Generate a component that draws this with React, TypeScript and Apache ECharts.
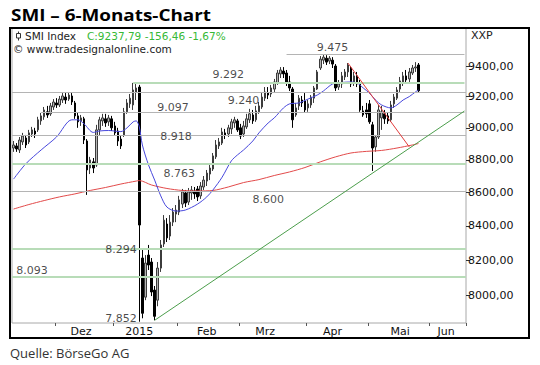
import React, { useEffect, useRef } from 'react';
import * as echarts from 'echarts';

// daily OHLC (trading days, mid-Nov 2014 .. end of May 2015)
const openV = [8873,8886,8861,8911,8936,8911,8961,8980,8987,9044,9070,9102,9089,9133,9159,9146,9178,9197,9184,9204,9159,9076,9044,9057,8917,8749,8787,8768,8987,9044,9057,9038,9057,9012,8980,8929,8955,9102,9153,9146,9230,9262,8212,7989,8229,8189,8029,7972,8154,8294,8411,8340,8422,8470,8482,8530,8597,8542,8597,8609,8621,8579,8633,8669,8712,8743,8818,8886,8904,8968,8961,8993,9031,9044,9000,8961,9006,9051,9082,9051,9102,9133,9190,9223,9217,9249,9289,9348,9367,9354,9295,9249,9082,9140,9178,9172,9127,9146,9190,9249,9387,9439,9452,9433,9439,9400,9262,9282,9328,9361,9387,9289,9335,9289,9108,9114,9153,9019,8880,8942,9063,9089,9076,9051,9153,9190,9249,9295,9335,9315,9354,9387,9407];
const highV = [8917,8904,8942,8968,8955,8987,9006,9000,9070,9095,9133,9140,9159,9184,9190,9204,9223,9223,9230,9223,9172,9095,9082,9070,8929,8818,8811,9019,9070,9089,9089,9082,9076,9038,9000,8948,9127,9184,9217,9289,9292,9276,8259,8229,8288,8212,8052,8189,8317,8464,8446,8464,8506,8524,8579,8621,8615,8627,8639,8633,8639,8663,8700,8737,8768,8842,8923,8936,9000,8993,9019,9057,9070,9057,9025,9044,9089,9121,9114,9140,9165,9223,9262,9262,9276,9315,9374,9393,9393,9374,9335,9262,9159,9210,9204,9223,9178,9210,9269,9374,9466,9475,9472,9466,9459,9413,9308,9361,9380,9420,9400,9361,9361,9308,9140,9159,9178,9038,8955,9146,9140,9114,9095,9172,9217,9262,9328,9361,9374,9387,9407,9426,9420];
const lowV = [8849,8849,8842,8892,8873,8898,8942,8936,8974,9019,9051,9063,9076,9114,9127,9133,9159,9153,9172,9146,9057,9000,9012,8898,8585,8712,8718,8756,8955,9012,9006,9012,8980,8955,8886,8867,8942,9089,9127,9114,9178,7852,7871,7972,8143,7995,7860,7938,8132,8276,8305,8317,8399,8422,8464,8506,8512,8524,8555,8561,8548,8561,8615,8639,8675,8731,8805,8867,8892,8929,8942,8961,9000,8974,8929,8942,8993,9031,9025,9038,9089,9121,9172,9184,9197,9230,9276,9321,9321,9269,9236,9000,9070,9114,9133,9095,9102,9127,9159,9243,9374,9413,9407,9413,9387,9236,9243,9256,9308,9328,9262,9269,9262,9102,9070,9063,9025,8731,8850,8930,8987,9025,9025,9038,9127,9178,9230,9269,9295,9282,9341,9361,9230];
const closeV = [8892,8867,8923,8948,8892,8968,8987,8961,9051,9076,9114,9082,9140,9165,9146,9184,9204,9178,9210,9165,9076,9038,9063,8923,8737,8799,8749,8987,9051,9063,9031,9063,9000,8968,8917,8886,9102,9159,9190,9243,9256,8405,7899,8183,8172,8018,7882,8154,8288,8434,8329,8422,8482,8494,8555,8603,8536,8603,8615,8591,8573,8639,8675,8718,8749,8824,8892,8911,8974,8955,9000,9038,9051,8987,8948,9012,9057,9089,9044,9108,9140,9197,9230,9210,9256,9295,9354,9374,9348,9289,9256,9051,9127,9190,9159,9114,9153,9197,9256,9361,9446,9459,9426,9452,9413,9256,9282,9335,9361,9407,9282,9335,9282,9114,9082,9089,9038,8873,8942,9114,9102,9057,9044,9146,9197,9243,9302,9335,9308,9361,9387,9394,9237.79];

const slotCount = 148;
const monthTickIdx = [14, 33, 54, 74, 96, 116, 136];
const monthLabelIdx = [22, 41, 63, 82, 104, 126, 141];
const monthNames = ['Dez', '2015', 'Feb', 'Mrz', 'Apr', 'Mai', 'Jun'];
const yTicks = [8000, 8200, 8400, 8600, 8800, 9000, 9200, 9400];

// moving averages: [trading-day index, value]
const blueMa = [[0,8681],[4,8775],[9,8861],[14,8942],[19,9051],[21,9051],[23,9025],[26,8971],[28,8980],[31,8983],[35,8976],[37,9000],[39,9038],[40,9044],[41,9006],[42,8892],[44,8768],[46,8675],[48,8579],[50,8512],[53,8488],[56,8494],[60,8530],[63,8573],[65,8615],[68,8693],[71,8793],[73,8830],[75,8861],[78,8917],[80,8968],[83,9031],[85,9063],[88,9127],[90,9153],[93,9159],[96,9184],[99,9210],[101,9236],[104,9282],[107,9292],[110,9295],[112,9289],[114,9256],[116,9223],[118,9178],[120,9146],[123,9127],[125,9146],[127,9178],[129,9200],[131,9230],[132,9243]];
const redMa = [[0,8500],[5,8527],[10,8551],[15,8573],[20,8591],[25,8612],[30,8630],[35,8651],[40,8669],[41,8672],[45,8645],[50,8624],[55,8612],[60,8609],[65,8612],[70,8633],[75,8660],[80,8678],[85,8703],[90,8725],[95,8752],[100,8787],[105,8818],[110,8842],[115,8852],[120,8858],[125,8873],[130,8892],[132,8901]];
const redTrend = [[109, 9420], [129, 8880]];
const greenTrend = [[46, 7860], [147, 9107]];

const levels = [9475, 9292, 9240, 9097, 8918, 8763, 8600, 8294, 8093];
const levelStart = [89, 39, -1, 9, -1, -1, -1, -1, -1];
const levelGreen = [false, true, false, false, false, true, false, true, true];

const noteText = ['9.475', '9.292', '9.240', '9.097', '8.918', '8.763', '8.600', '8.294', '8.093', '7.852'];
const noteIdx = [104, 70, 75, 52, 53, 54, 83, 35, 6, 35];
const noteVal = [9475, 9292, 9240, 9097, 8918, 8763, 8600, 8294, 8093, 7852];
const noteDy = [-7, -8, 10, -5, -4.5, 7.5, 7.5, 6, -8, -3];

const L = Math.log;
const FONT = 'DejaVu Sans';

export default function App() {
  const ref = useRef<HTMLDivElement>(null);
  useEffect(() => {
    document.body.style.margin = '0';
    const chart = echarts.init(ref.current!, null, { renderer: 'svg' });
    const cats = Array.from({ length: slotCount }, (_, i) => String(i));
    const candle = openV.map((o, i) => [L(o), L(closeV[i]), L(lowV[i]), L(highV[i])]);
    const markData: any[] = levels.map((v, k) => {
      const ls = { color: levelGreen[k] ? '#b8dcb8' : '#b4b4b4', width: levelGreen[k] ? 2 : 1, type: 'solid' };
      if (levelStart[k] < 0) return { yAxis: L(v), lineStyle: ls };
      return [
        { xAxis: String(levelStart[k]), yAxis: L(v), lineStyle: ls },
        { xAxis: String(slotCount - 1), yAxis: L(v) },
      ];
    });
    const option: any = {
      animation: false,
      grid: { left: 12, right: 74, top: 28, bottom: 42, show: true, borderColor: '#a8a8a8', borderWidth: 1 },
      xAxis: {
        type: 'category',
        data: cats,
        boundaryGap: true,
        axisLine: { show: false },
        splitLine: { show: false },
        axisTick: { show: true, interval: (i: number) => monthTickIdx.includes(i), length: 3, lineStyle: { color: '#555' } },
        axisLabel: {
          interval: (i: number) => monthLabelIdx.includes(i),
          formatter: (_v: string, i: number) => monthNames[monthLabelIdx.indexOf(i)] ?? '',
          fontFamily: FONT, fontSize: 11, color: '#111', margin: 3,
        },
      },
      yAxis: {
        type: 'value',
        position: 'right',
        min: L(7845),
        max: L(9655),
        splitLine: { show: false },
        axisLine: { show: false },
        axisTick: { show: true, customValues: yTicks.map(L), length: 4, lineStyle: { color: '#333' } },
        axisLabel: {
          customValues: yTicks.map(L),
          formatter: (v: number) => Math.round(Math.exp(v)) + ',00',
          fontFamily: FONT, fontSize: 11, color: '#111', margin: 2,
        },
      },
      series: [
        {
          type: 'line', data: [], z: 1, silent: true,
          markLine: { silent: true, symbol: 'none', label: { show: false }, data: markData },
        },
        {
          type: 'candlestick', data: candle, z: 3, barWidth: 2,
          itemStyle: { color: '#b4b4b4', color0: '#000', borderColor: '#3c3c3c', borderColor0: '#000', borderWidth: 1 },
        },
        { type: 'line', data: redMa.map(([i, v]) => [i, L(v)]), showSymbol: false, smooth: 0.3, z: 4, lineStyle: { color: '#e24a4a', width: 1 } },
        { type: 'line', data: blueMa.map(([i, v]) => [i, L(v)]), showSymbol: false, smooth: 0.3, z: 4, lineStyle: { color: '#4848dc', width: 1 } },
        { type: 'line', data: redTrend.map(([i, v]) => [i, L(v)]), showSymbol: false, z: 5, lineStyle: { color: '#e23c3c', width: 1 } },
        { type: 'line', data: greenTrend.map(([i, v]) => [i, L(v)]), showSymbol: false, z: 5, lineStyle: { color: '#4c9e4c', width: 1 } },
        {
          type: 'scatter', symbolSize: 0, z: 6, silent: true,
          data: noteIdx.map((i, k) => [i, L(noteVal[k])]),
          label: {
            show: true, position: 'inside',
            formatter: (p: any) => noteText[p.dataIndex],
            fontFamily: FONT, fontSize: 11, color: '#1a1a1a',
          },
          labelLayout: (p: any) => ({ dy: noteDy[p.dataIndex] }),
        },
      ],
      graphic: [
        { type: 'rect', shape: { x: 10, y: 28, width: 519, height: 310 }, style: { fill: 'none', stroke: '#000', lineWidth: 2 }, z: 100 },
        { type: 'text', x: 11, y: 15, scaleX: 1.18, style: { text: 'SMI – 6-Monats-Chart', font: 'bold 16px "Open Sans"', fill: '#000', verticalAlign: 'middle' } },
        { type: 'line', shape: { x1: 18.5, y1: 31.5, x2: 18.5, y2: 40.5 }, style: { stroke: '#333', lineWidth: 1 } },
        { type: 'rect', shape: { x: 16.5, y: 33.5, width: 4, height: 4.5 }, style: { fill: '#fff', stroke: '#333', lineWidth: 1 } },
        { type: 'text', x: 25, y: 36, style: { text: 'SMI Index', font: '10.5px "DejaVu Sans"', fill: '#222', verticalAlign: 'middle' } },
        { type: 'text', x: 87, y: 36, style: { text: 'C:9237,79 -156,46 -1,67%', font: '10.5px "DejaVu Sans"', fill: '#36b936', verticalAlign: 'middle' } },
        { type: 'text', x: 13, y: 49, style: { text: '© www.tradesignalonline.com', font: '10.5px "DejaVu Sans"', fill: '#222', verticalAlign: 'middle' } },
        { type: 'text', x: 471, y: 35, style: { text: 'XXP', font: '11px "DejaVu Sans"', fill: '#222', verticalAlign: 'middle' } },
        { type: 'text', x: 10, y: 353, style: { text: 'Quelle: BörseGo AG', font: '13px "Open Sans"', fill: '#333', verticalAlign: 'middle' } },
      ],
    };
    chart.setOption(option);
    return () => chart.dispose();
  }, []);
  return <div ref={ref} style={{ width: 540, height: 365 }} />;
}
